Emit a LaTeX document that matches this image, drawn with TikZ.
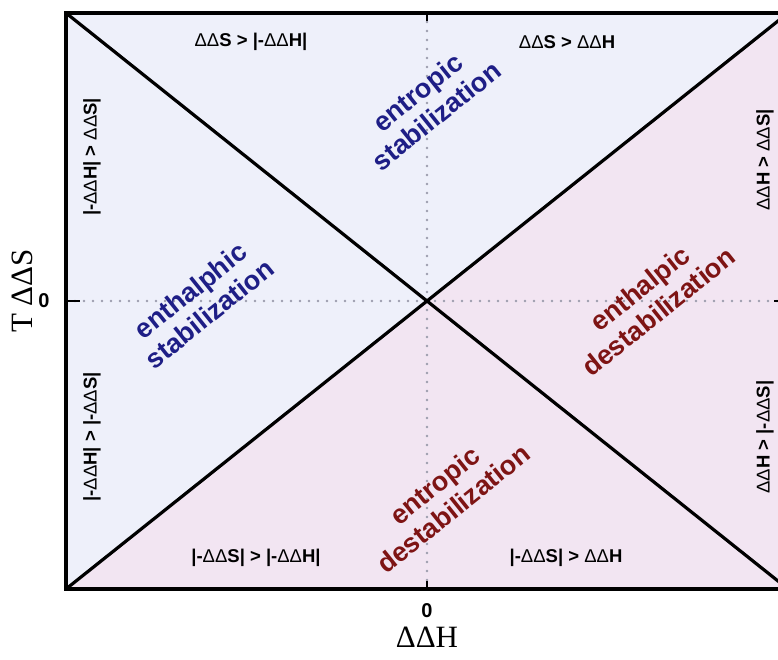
\documentclass[tikz,border=0pt]{standalone}
\usepackage{fontspec}
\setmainfont{Liberation Serif}
\setsansfont{Liberation Sans}
\newcommand\DD{{\mdseries ΔΔ}}
\definecolor{bluefill}{HTML}{EEF0FA}
\definecolor{pinkfill}{HTML}{F2E5F2}
\definecolor{stabblue}{HTML}{1E1E86}
\definecolor{destred}{HTML}{7E1414}
\definecolor{gridgray}{HTML}{9C9DAD}
\tikzset{
  smalllab/.style={font=\sffamily\bfseries\fontsize{18.5}{22}\selectfont, inner sep=0pt},
  biglab/.style={font=\sffamily\bfseries\fontsize{27}{30}\selectfont, align=center, inner sep=0pt, rotate=38.7},
  axlab/.style={font=\rmfamily\fontsize{31}{34}\selectfont, inner sep=0pt},
  zerolab/.style={font=\sffamily\bfseries\fontsize{20}{22}\selectfont, inner sep=0pt},
  frame/.style={line width=4.2pt, line cap=rect},
  diag/.style={line width=3.2pt},
  gridline/.style={gridgray, line width=2.8pt, dash pattern=on 0pt off 9pt, line cap=round},
  tick/.style={line width=2.8pt}
}
\begin{document}
\begin{tikzpicture}[x=1pt,y=-1pt]
\useasboundingbox (0,0) rectangle (778,660);
\fill[white] (0,0) rectangle (778,660);
\coordinate (TL) at (66,13);
\coordinate (TR) at (788,13);
\coordinate (BL) at (66,589);
\coordinate (BR) at (788,589);
\coordinate (O) at (427,301);
\coordinate (Ltick) at (66,301);
\coordinate (Rtick) at (788,301);
\coordinate (Ttick) at (427,13);
\coordinate (Btick) at (427,589);
\begin{scope}
\clip (0,0) rectangle (778,660);
\fill[bluefill] (TL) -- (TR) -- (O) -- cycle;
\fill[bluefill] (TL) -- (BL) -- (O) -- cycle;
\fill[pinkfill] (BL) -- (BR) -- (O) -- cycle;
\fill[pinkfill] (TR) -- (BR) -- (O) -- cycle;
\draw[gridline] (Ttick) -- (Btick);
\draw[gridline] (Ltick) -- (Rtick);
\draw[diag] (TL) -- (BR);
\draw[diag] (BL) -- (TR);
\draw[tick] (Ltick) -- ++(14,0);
\draw[tick] (Rtick) -- ++(-14,0);
\draw[tick] (Ttick) -- ++(0,8);
\draw[tick] (Btick) -- ++(0,-8);
\draw[frame] (TR) -- (TL) -- (BL) -- (BR) -- (TR);
\end{scope}
% small region labels
\node[smalllab] (l1) at (251,42) {\DD S > |-\DD H|};
\node[smalllab] (l2) at (567,42) {\DD S > \DD H};
\node[smalllab] (l3) at (256,558) {|-\DD S| > |-\DD H|};
\node[smalllab] (l4) at (566,558) {|-\DD S| > \DD H};
\node[smalllab, rotate=90] (l5) at (92,157) {|-\DD H| > \DD S|};
\node[smalllab, rotate=90] (l6) at (92,437) {|-\DD H| > |-\DD S|};
\node[smalllab, rotate=90] (l7) at (765,160) {\DD H > \DD S|};
\node[smalllab, rotate=90] (l8) at (765,437) {\DD H > |-\DD S|};
% big labels
\node[biglab, text=stabblue] (es) at (427,104) {entropic\\stabilization};
\node[biglab, text=stabblue] (hs) at (200,302) {enthalphic\\stabilization};
\node[biglab, text=destred] (hd) at (649,300) {enthalpic\\destabilization};
\node[biglab, text=destred] (ed) at (444,497) {entropic\\destabilization};
% axes
\node[zerolab] (y0) at (44,301) {0};
\node[zerolab] (x0) at (427,611) {0};
\node[axlab, rotate=90] (ylab) at (22,291) {T ΔΔS};
\node[axlab] (xlab) at (427,637) {ΔΔH};
\end{tikzpicture}
\end{document}
